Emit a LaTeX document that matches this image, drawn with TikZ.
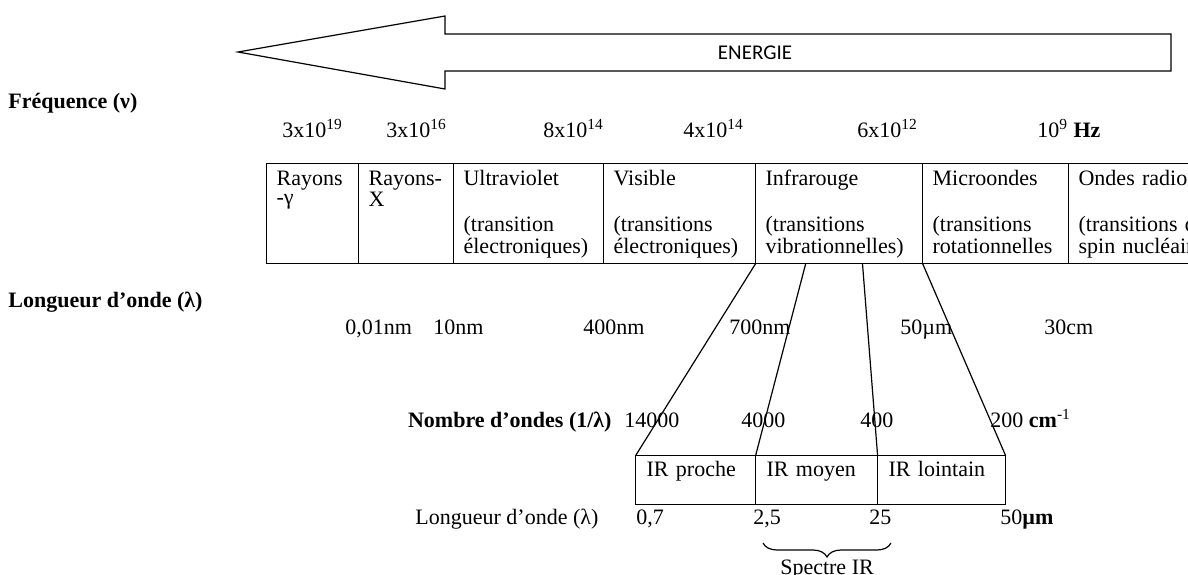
\documentclass[tikz,border=0pt]{standalone}
\usepackage{fontspec}
\setmainfont{Liberation Serif}
\newfontfamily\calibri{Carlito}
\usetikzlibrary{matrix,positioning,calc,decorations.pathreplacing}
\tikzset{mycolumn/.style args = {(#1,#2)}{%
		column #1/.style={nodes={text width=#2}}}}
\tikzset{thinline/.style={line width=0.6pt},
	lab/.style={anchor=base west,inner sep=0pt},
	boldlab/.style={lab,font=\fontsize{11}{9.5}\selectfont\bfseries}}

\begin{document}
\begin{tikzpicture}[ampersand replacement=\&, x=0.5pt, y=-0.5pt, font=\fontsize{11}{9.5}\selectfont]
			\useasboundingbox (0,0) rectangle (1188,574);

			% fleche energie
			\draw[thinline] (238,52) -- (445,16) -- (445,34) -- (1171,34) -- (1171,71) -- (445,71) -- (445,89) -- cycle;
			\node[font=\calibri\fontsize{10.5}{12}\selectfont] (energie) at (755,53) {ENERGIE};

			\node[boldlab] (freq) at (8,108) {Fréquence (ν)};
			\node[lab] (f1) at (282,137) {3x10\textsuperscript{19}};
			\node[lab] (f2) at (386,137) {3x10\textsuperscript{16}};
			\node[lab] (f3) at (543,137) {8x10\textsuperscript{14}};
			\node[lab] (f4) at (683,137) {4x10\textsuperscript{14}};
			\node[lab] (f5) at (857,137) {6x10\textsuperscript{12}};
			\node[lab] (f6) at (1037,137) {10\textsuperscript{9} \textbf{Hz}};

			\matrix (spec) [matrix of nodes, anchor=north west, inner sep=0pt, outer sep=0pt, column sep=-0.6pt,
			nodes={draw, thinline, align=left, inner xsep=5pt, inner ysep=0pt, text height=11pt, text depth=39pt},
			mycolumn/.list={(1,36pt),(2,37.5pt),(3,65pt),(4,66pt),(5,73.5pt),(6,63pt),(7,90pt)}
			] at (266,163)
			{
				{Rayons\\-γ\\[4pt]~\\~} \& {Rayons-\\X\\[4pt]~\\~} \& {Ultraviolet\\~\\[4pt](transition\\électroniques)} \& {Visible\\~\\[4pt](transitions\\électroniques)} \& {Infrarouge\\~\\[4pt](transitions\\vibrationnelles)} \& {Microondes\\~\\[4pt](transitions\\rotationnelles} \& {Ondes radio\\~\\[4pt](transitions de\\spin nucléaire)}\\
			};

			\node[boldlab] (lond) at (8,307) {Longueur d’onde (λ)};
			\node[lab] (l1) at (345,334) {0,01nm};
			\node[lab] (l2) at (433,334) {10nm};
			\node[lab] (l3) at (583,334) {400nm};
			\node[lab] (l4) at (729,334) {700nm};
			\node[lab] (l5) at (900,334) {50µm};
			\node[lab] (l6) at (1044,334) {30cm};

			\node[boldlab, anchor=base east] (nbo) at (612,427) {Nombre d’ondes (1/λ)};
			\node[lab] (n1) at (624,427) {14000};
			\node[lab] (n2) at (741,427) {4000};
			\node[lab] (n3) at (860,427) {400};
			\node[lab] (n4) at (990,427) {200 \textbf{cm}\textsuperscript{-1}};

			\matrix (irm) [matrix of nodes, anchor=north west, inner sep=0pt, outer sep=0pt, column sep=-0.6pt,
			nodes={draw, thinline, align=left, inner xsep=5.5pt, inner ysep=0pt, text height=10.5pt, text depth=14pt},
			mycolumn/.list={(1,49pt),(2,50pt),(3,53pt)}
			] at (635,455)
			{
				IR proche \& IR moyen \& IR lointain \\
			};

			\coordinate (c1) at ($(spec-1-5.south west)!0.3!(spec-1-5.south east)$);
			\coordinate (c2) at ($(spec-1-5.south west)!0.64!(spec-1-5.south east)$);
			\draw[thinline] (spec-1-5.south west) -- (irm-1-1.north west);
			\draw[thinline] (c1) -- (irm-1-2.north west);
			\draw[thinline] (c2) -- (irm-1-3.north west);
			\draw[thinline] (spec-1-5.south east) -- (irm-1-3.north east);

			\node[lab] (lond2) at (415,524) {Longueur d’onde (λ)};
			\node[lab] (w1) at (636,524) {0,7};
			\node[lab] (w2) at (753,524) {2,5};
			\node[lab] (w3) at (869,524) {25};
			\node[lab] (w4) at (1000,524) {50\textbf{µm}};

			\coordinate (bl) at (763,543);
			\coordinate (br) at (891,543);
			\draw[thinline, decorate, decoration={brace, mirror, amplitude=7pt}] (bl) -- node[midway, below=8pt, inner sep=0pt] (spir) {Spectre IR} (br);
\end{tikzpicture}
\end{document}
